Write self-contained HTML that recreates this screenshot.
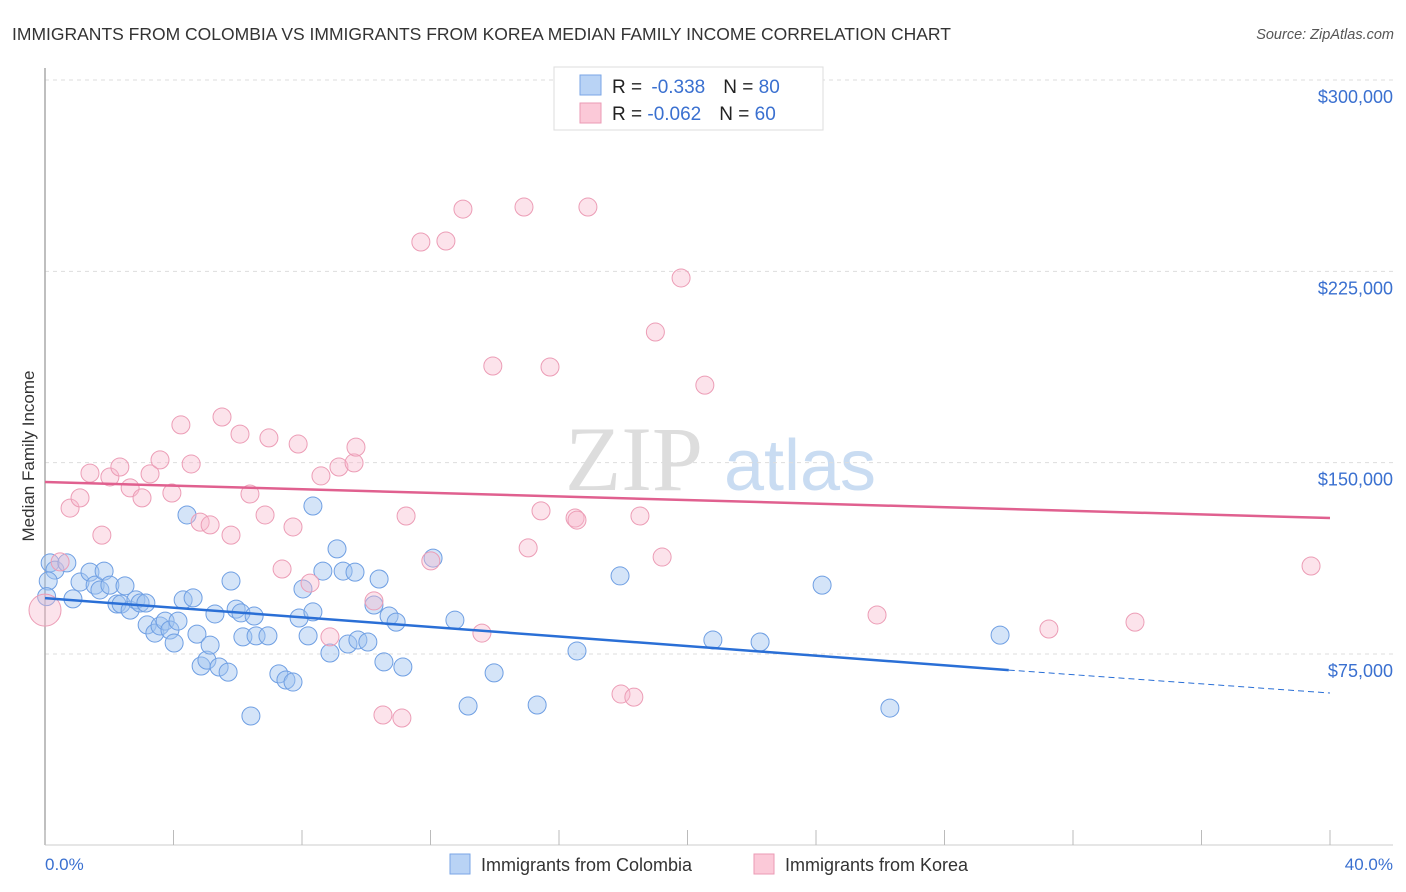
<!DOCTYPE html>
<html><head><meta charset="utf-8"><style>
body{margin:0;background:#fff;font-family:"Liberation Sans",sans-serif;}
svg{display:block}
</style></head><body>
<svg id="chart" width="1406" height="892" xmlns="http://www.w3.org/2000/svg" font-family="Liberation Sans, sans-serif">
<text x="12" y="40" font-size="17.5" fill="#333">IMMIGRANTS FROM COLOMBIA VS IMMIGRANTS FROM KOREA MEDIAN FAMILY INCOME CORRELATION CHART</text>
<text x="1394" y="39" font-size="14.5" fill="#555" font-style="italic" text-anchor="end">Source: ZipAtlas.com</text>
<g>
<text x="634" y="490" font-size="92" fill="#ddd" text-anchor="middle" font-family="Liberation Serif, serif">ZIP</text>
<text x="800" y="490" font-size="72" fill="#c9dcf2" text-anchor="middle">atlas</text>
</g>
<g id="grid"></g>
<g id="axes"></g>
<g id="pts"></g>
<g id="trend"></g>
<g>
<rect x="554" y="67" width="269" height="63" fill="#fff" stroke="#ddd"/>
<rect x="580" y="75" width="21" height="20" fill="#b9d3f5" stroke="#7aa6e6"/>
<rect x="580" y="103" width="21" height="20" fill="#fbc9d8" stroke="#eb9ab4"/>
<text x="612" y="93" font-size="19" fill="#222">R = <tspan fill="#3a70d0" dx="4">-0.338</tspan><tspan dx="18">N = </tspan><tspan fill="#3a70d0">80</tspan></text>
<text x="612" y="120" font-size="19" fill="#222">R = <tspan fill="#3a70d0" dx="0">-0.062</tspan><tspan dx="18">N = </tspan><tspan fill="#3a70d0">60</tspan></text>
</g>
<g>
<rect x="450" y="854" width="20" height="20" fill="#b9d3f5" stroke="#7aa6e6"/>
<text x="481" y="871" font-size="18" fill="#333">Immigrants from Colombia</text>
<rect x="754" y="854" width="20" height="20" fill="#fbc9d8" stroke="#eb9ab4"/>
<text x="785" y="871" font-size="18" fill="#333">Immigrants from Korea</text>
</g>
<text x="45" y="870" font-size="17" fill="#3a70d0">0.0%</text>
<text x="1393" y="870" font-size="17" fill="#3a70d0" text-anchor="end">40.0%</text>
<text transform="translate(34,456) rotate(-90)" font-size="17" fill="#333" text-anchor="middle">Median Family Income</text>
</svg>
<script>
const yTicks=[75000,150000,225000,300000];
const yTickLabels=["$75,000","$150,000","$225,000","$300,000"];
const xTicks=[0,4,8,12,16,20,24,28,32,36,40];
const colX=[0.16,0.31,0.68,0.87,1.09,1.40,1.56,1.71,1.84,2.02,2.24,2.37,2.49,2.65,2.83,2.96,3.14,3.18,3.42,3.58,3.74,3.89,4.02,4.14,4.30,4.42,4.61,4.73,4.86,5.04,5.14,5.29,5.42,5.70,5.79,5.95,6.10,6.16,6.41,6.51,6.57,6.94,7.28,7.50,7.72,7.91,8.03,8.19,8.34,8.34,8.65,8.87,9.09,9.28,9.43,9.65,9.74,10.05,10.24,10.40,10.55,10.71,10.93,11.14,12.08,12.76,13.17,13.98,15.32,16.56,17.90,20.79,22.26,24.19,26.30,29.73,0.1,0.05];
const colY=[110.7,107.9,110.7,96.6,103.2,107.1,102.0,100.1,107.5,102.0,94.6,94.6,101.7,92.2,96.2,95.0,95.0,86.4,83.2,86.0,87.9,84.4,79.3,87.9,96.2,129.5,97.0,82.8,70.3,72.6,78.5,90.7,69.9,67.9,103.6,92.6,91.1,81.7,50.7,89.9,82.1,82.1,67.2,64.8,64.0,89.1,100.5,82.1,91.5,133.0,107.5,75.4,116.2,107.5,78.9,107.1,80.5,79.7,94.2,104.4,71.9,89.9,87.5,69.9,112.6,88.3,54.6,67.6,55.0,76.2,105.6,80.5,79.7,102.0,53.8,82.4,103.6,97.5];
const korX=[0.0,0.47,0.78,1.09,1.40,1.77,2.02,2.33,2.65,3.02,3.27,3.58,3.95,4.23,4.55,4.83,5.14,5.51,5.79,6.07,6.38,6.85,6.97,7.38,7.72,7.88,8.25,8.59,8.87,9.15,9.62,9.68,10.24,10.52,11.11,11.24,11.70,12.01,12.48,13.01,13.60,13.94,14.91,15.04,15.44,15.72,16.50,16.56,16.90,17.93,18.33,18.52,19.00,19.21,19.80,20.54,25.90,31.25,33.93,39.41];
const korY=[92.2,111.1,132.2,136.2,145.9,121.6,144.4,148.3,140.1,136.2,145.6,151.1,138.1,164.8,149.5,126.7,125.6,167.9,121.6,161.2,137.7,129.5,159.7,108.3,124.8,157.3,102.8,144.8,81.7,148.3,149.9,156.1,95.8,51.1,49.9,129.1,236.5,111.5,236.9,249.4,83.2,187.9,250.2,116.6,131.1,187.5,128.3,127.5,250.2,59.3,58.1,129.1,201.2,113.0,222.4,180.4,90.3,84.8,87.5,109.5];
const colTrend=[96.9,68.7,59.7]; // at 0%, 30%, 40%
const colTrendX=[0,30,40];
const korTrend=[142.4,128.3];
const korTrendX=[0,40];

const NS="http://www.w3.org/2000/svg";
const sx=v=>45+v*32.125;
const sy=v=>654-(v-75)*574/225;
function mk(tag,attrs,parent){const e=document.createElementNS(NS,tag);for(const k in attrs)e.setAttribute(k,attrs[k]);parent.appendChild(e);return e;}
const grid=document.getElementById('grid'),axes=document.getElementById('axes'),pts=document.getElementById('pts'),trend=document.getElementById('trend');
yTicks.forEach((t,i)=>{const y=sy(t/1000);
 const l=mk('line',{x1:45,x2:1393,y1:y,y2:y,stroke:'#ddd','stroke-dasharray':'4,4'},grid);
 
 
 const tx=mk('text',{x:1393,y:y+23,'font-size':18,fill:'#3a70d0','text-anchor':'end'},grid);
 tx.textContent=yTickLabels[i];
 
 
});
const ya=mk('line',{x1:45,x2:45,y1:68,y2:845,stroke:'#aaa','stroke-width':1.5},axes);


const xa=mk('line',{x1:45,x2:1393,y1:845,y2:845,stroke:'#ccc'},axes);


xTicks.forEach(t=>{const x=sx(t);
 const l=mk('line',{x1:x,x2:x,y1:830,y2:845,stroke:'#bbb'},axes);
 
 
});
colX.forEach((x,i)=>{
 const c=mk('circle',{cx:sx(x),cy:sy(colY[i]),r:9,fill:'rgba(160,195,240,0.45)',stroke:'#6f9fe3','stroke-width':1},pts);
 
 
});
korX.forEach((x,i)=>{
 const c=mk('circle',{cx:sx(x),cy:sy(korY[i]),r:i===0?16:9,fill:'rgba(248,185,205,0.4)',stroke:'#ec9db6','stroke-width':1},pts);
 
 
});
const t1=mk('line',{x1:sx(colTrendX[0]),y1:sy(colTrend[0]),x2:sx(colTrendX[1]),y2:sy(colTrend[1]),stroke:'#2a6fd6','stroke-width':2.5},trend);


const t2=mk('line',{x1:sx(colTrendX[1]),y1:sy(colTrend[1]),x2:sx(colTrendX[2]),y2:sy(colTrend[2]),stroke:'#2a6fd6','stroke-width':1,'stroke-dasharray':'6,4'},trend);


const t3=mk('line',{x1:sx(korTrendX[0]),y1:sy(korTrend[0]),x2:sx(korTrendX[1]),y2:sy(korTrend[1]),stroke:'#e0608f','stroke-width':2.5},trend);


</script>
</body></html>
